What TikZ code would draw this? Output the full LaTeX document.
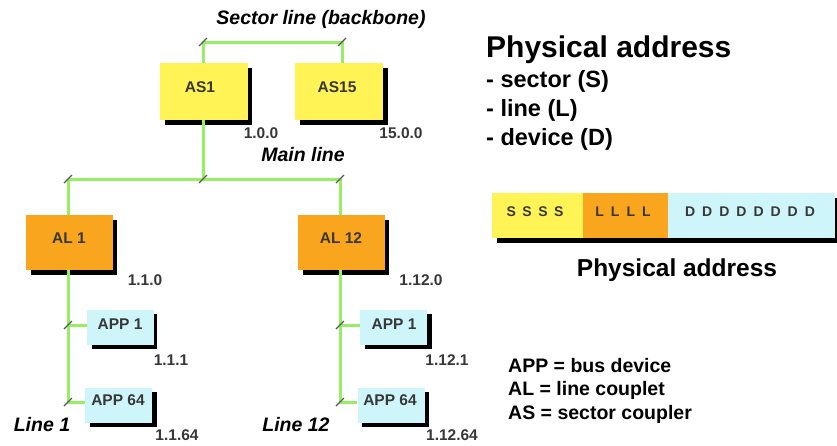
\documentclass[tikz,border=0pt]{standalone}
\usepackage{fontspec}
\setmainfont{Liberation Sans}
\usetikzlibrary{calc}
\definecolor{busgreen}{RGB}{150,238,100}
\definecolor{asyellow}{RGB}{255,243,85}
\definecolor{alorange}{RGB}{249,165,30}
\definecolor{appcyan}{RGB}{205,245,250}
\definecolor{numgrey}{RGB}{55,55,55}
\begin{document}
\begin{tikzpicture}[x=1pt,y=-1pt,
  bus/.style={draw=busgreen,line width=3pt},
  boxbase/.style={inner sep=0pt,draw=none},
  boxlabel/.style={inner sep=0pt,font=\fontsize{15.5}{17}\selectfont\bfseries,text=numgrey},
  asbox/.style={boxbase,fill=asyellow,minimum width=88pt,minimum height=57pt},
  albox/.style={boxbase,fill=alorange,minimum width=87pt,minimum height=55pt},
  appbox/.style={boxbase,fill=appcyan,minimum width=67pt,minimum height=35pt},
  shade/.style={fill=black},
  addr/.style={font=\fontsize{15.5}{17}\selectfont\bfseries,text=numgrey},
  bar/.style={font=\fontsize{14}{16}\selectfont\bfseries,text=numgrey},
  title/.style={font=\fontsize{19.5}{22}\selectfont\bfseries\itshape},
  legend/.style={font=\fontsize{19.5}{23.5}\selectfont\bfseries,align=left,anchor=base west,inner sep=0pt},
  tick/.style={draw=gray!70!black,line width=1.2pt}]
\useasboundingbox (0,0) rectangle (837,445);

% ---- shadows
\fill[shade] (165,68) rectangle (252,125);
\fill[shade] (300,68) rectangle (388,125);
\fill[shade] (31,220) rectangle (117,275);
\fill[shade] (303,220) rectangle (389,275);
\fill[shade] (92,314) rectangle (157,349);
\fill[shade] (90,392) rectangle (157,427);
\fill[shade] (365,314) rectangle (432,349);
\fill[shade] (362,392) rectangle (429,427);
\fill[shade] (497,198) rectangle (837,243);

% ---- bus coordinates
\coordinate (bbL) at (203,42);
\coordinate (bbR) at (342,42);
\coordinate (mlL) at (68,179);
\coordinate (mlM) at (203,179);
\coordinate (mlR) at (340,179);
\coordinate (l1a) at (68,325);
\coordinate (l1b) at (68,402);
\coordinate (l12a) at (340,325);
\coordinate (l12b) at (340,402);

% ---- boxes
\node[asbox] (as1) at (204,91.5) {};
\node[asbox] (as15) at (339,91.5) {};
\node[albox] (al1) at (69.5,242.5) {};
\node[albox] (al12) at (341.5,242.5) {};
\node[appbox] (app11) at (120.5,327.5) {};
\node[appbox] (app164) at (118.5,405.5) {};
\node[appbox] (app121) at (393.5,327.5) {};
\node[appbox] (app1264) at (391,405.5) {};

\node[boxlabel] (t-as1) at (200,87) {AS1};
\node[boxlabel] (t-as15) at (337,87) {AS15};
\node[boxlabel] (t-al1) at (69,238) {AL 1};
\node[boxlabel] (t-al12) at (341,238) {AL 12};
\node[boxlabel] (t-app11) at (120,324) {APP 1};
\node[boxlabel] (t-app164) at (118,400) {APP 64};
\node[boxlabel] (t-app121) at (394,324) {APP 1};
\node[boxlabel] (t-app1264) at (390,400) {APP 64};

% ---- bus lines
\draw[bus] (as1.north -| bbL) -- (bbL) -- (bbR) -- (as15.north -| bbR);
\draw[bus] (as1.south -| mlM) -- (mlM);
\draw[bus] (mlL) -- (mlR);
\draw[bus] (mlL) -- (al1.north -| mlL);
\draw[bus] (mlR) -- (al12.north -| mlR);
\draw[bus] (al1.south -| mlL) -- (l1b) -- (app164.west |- l1b);
\draw[bus] (l1a) -- (app11.west |- l1a);
\draw[bus] (al12.south -| mlR) -- (l12b) -- (app1264.west |- l12b);
\draw[bus] (l12a) -- (app121.west |- l12a);

% ---- junction ticks
\foreach \p in {bbL,bbR,mlL,mlM,mlR,l1a,l1b,l12a,l12b}
  \draw[tick] ($(\p)+(-4,4)$) -- ($(\p)+(4,-4)$);

% ---- addresses
\node[addr] (a-as1) at (261,133) {1.0.0};
\node[addr] (a-as15) at (401,133) {15.0.0};
\node[addr] (a-al1) at (145,280) {1.1.0};
\node[addr] (a-app11) at (171,360) {1.1.1};
\node[addr] (a-app164) at (177,435) {1.1.64};
\node[addr] (a-al12) at (421,280) {1.12.0};
\node[addr] (a-app121) at (447,360) {1.12.1};
\node[addr] (a-app1264) at (452,435) {1.12.64};

% ---- titles
\node[title] (t-sector) at (321,19) {Sector line (backbone)};
\node[title] (t-main) at (303,155) {Main line};
\node[title] (t-line1) at (42,425) {Line 1};
\node[title] (t-line12) at (296,425) {Line 12};

% ---- physical address text
\node[anchor=base west,inner sep=0pt,font=\fontsize{30}{32}\selectfont\bfseries] (pa) at (486,57) {Physical address};
\node[anchor=base west,inner sep=0pt,font=\fontsize{23.5}{27}\selectfont\bfseries] (p1) at (486,87) {- sector (S)};
\node[anchor=base west,inner sep=0pt,font=\fontsize{23.5}{27}\selectfont\bfseries] (p2) at (486,116) {- line (L)};
\node[anchor=base west,inner sep=0pt,font=\fontsize{23.5}{27}\selectfont\bfseries] (p3) at (486,145) {- device (D)};

% ---- address bar
\node[inner sep=0pt,fill=asyellow,minimum width=91pt,minimum height=45pt] (bs) at (537.5,215.5) {};
\node[inner sep=0pt,fill=alorange,minimum width=85pt,minimum height=45pt] (bl) at (625.5,215.5) {};
\node[inner sep=0pt,fill=appcyan,minimum width=167pt,minimum height=45pt] (bd) at (751.5,215.5) {};
\node[bar] (s-s) at (535,212) {S\hspace{6.5pt}S\hspace{6.5pt}S\hspace{6.5pt}S};
\node[bar] (s-l) at (623,212) {L\hspace{7pt}L\hspace{7pt}L\hspace{7pt}L};
\node[bar] (s-d) at (750,212) {D\hspace{7pt}D\hspace{7pt}D\hspace{7pt}D\hspace{7pt}D\hspace{7pt}D\hspace{7pt}D\hspace{7pt}D};
\node[font=\fontsize{24.5}{28}\selectfont\bfseries] (pa2) at (677,270) {Physical address};

% ---- legend
\node[legend] (lg1) at (508,372) {APP = bus device};
\node[legend] (lg2) at (508,395) {AL = line couplet};
\node[legend] (lg3) at (508,419) {AS = sector coupler};
\end{tikzpicture}
\end{document}
